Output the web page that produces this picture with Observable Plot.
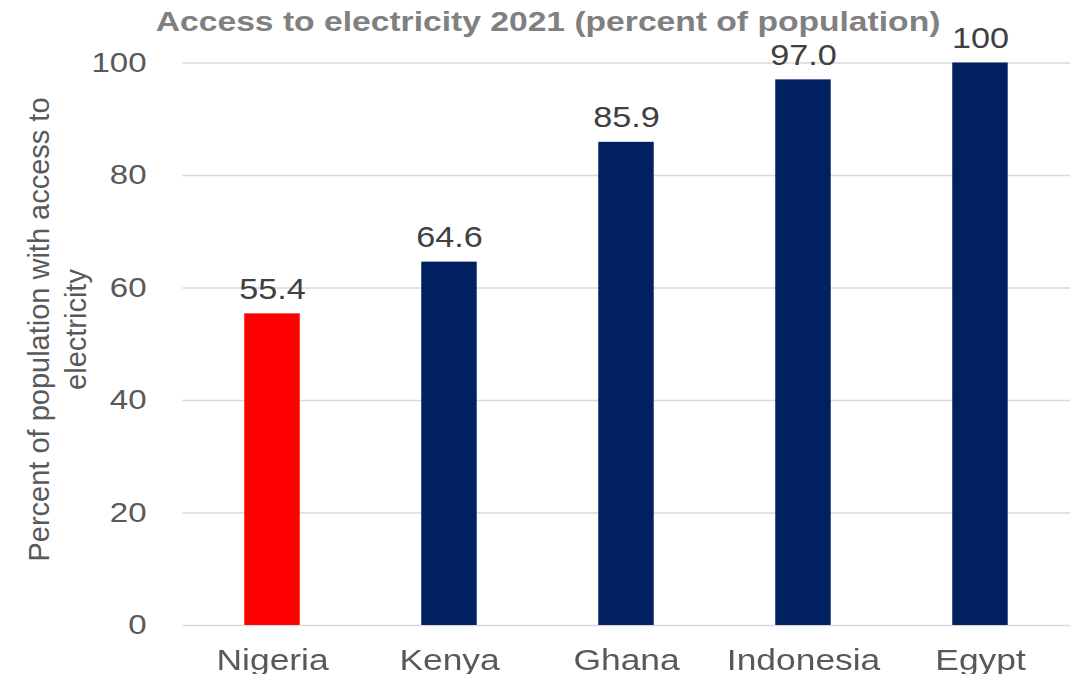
<!DOCTYPE html>
<html><head><meta charset="utf-8">
<script src="https://cdn.jsdelivr.net/npm/d3@7"></script>
<script src="https://cdn.jsdelivr.net/npm/@observablehq/plot@0.6"></script>
<style>
html,body{margin:0;padding:0;background:#fff;overflow:hidden;}
#wrap{transform-origin:0 0;}
</style></head><body><div id="wrap"></div>
<script>
const countries = ["Nigeria", "Kenya", "Ghana", "Indonesia", "Egypt"];
const values = [55.4, 64.6, 85.9, 97.0, 100];
const valueLabels = ["55.4", "64.6", "85.9", "97.0", "100"];
const barColors = ["#ff0000", "#002060", "#002060", "#002060", "#002060"];
const yTicks = [0, 20, 40, 60, 80, 100];
const titleText = "Access to electricity 2021 (percent of population)";
const yLabelLines = ["Percent of population with access to", "electricity"];

const data = countries.map((c, i) => ({country: c, value: values[i], label: valueLabels[i], color: barColors[i]}));

const S = 1.18;            // horizontal stretch of the reference rendering
const W = 1076 / S;
const left = 182.5 / S, right = 1070 / S;
const wrap = document.getElementById("wrap");
wrap.style.width = W + "px";
wrap.style.transform = `scaleX(${S})`;

const chart = Plot.plot({
  width: W,
  height: 674,
  marginTop: 62.5,
  marginBottom: 49,
  marginLeft: left,
  marginRight: W - right,
  style: {fontFamily: "'Liberation Sans', Arial, sans-serif", background: "#fff", overflow: "visible"},
  x: {domain: countries, paddingInner: 0.6845, paddingOuter: 0.342, label: null},
  y: {domain: [0, 100], label: null},
  color: {type: "identity"},
  marks: [
    Plot.ruleY(yTicks, {stroke: "#d9d9d9", strokeWidth: 1.5}),
    Plot.barY(data, {x: "country", y: "value", fill: "color"}),
    Plot.text(data, {x: "country", y: "value", text: "label", dy: -24.4, fontSize: 29, fill: "#404040"}),
    Plot.axisX({tickSize: 0, tickPadding: 23, fontSize: 30, fill: "#595959", label: null}),
    Plot.axisY({ticks: yTicks, tickSize: 0, tickPadding: 31, fontSize: 28, fill: "#595959", label: null}),
    Plot.text([yLabelLines[0]], {text: d => d, frameAnchor: "left", textAnchor: "middle", lineAnchor: "middle", rotate: -90, dx: 33.1 - left, dy: -14.75, fontSize: 29, fill: "#595959"}),
    Plot.text([yLabelLines[1]], {text: d => d, frameAnchor: "left", textAnchor: "middle", lineAnchor: "middle", rotate: -90, dx: 64.4 - left, dy: -14.75, fontSize: 29, fill: "#595959"}),
    Plot.text([titleText], {text: d => d, frameAnchor: "top", textAnchor: "middle", lineAnchor: "middle", dx: 547.5 / S - (left + right) / 2, dy: -41.6, fontSize: 28.5, fontWeight: "bold", fill: "#808080"})
  ]
});
// the vertical axis title is not stretched in the reference: undo the horizontal stretch for it
d3.select(chart).selectAll("text")
  .filter(function () { return yLabelLines.includes(this.textContent); })
  .each(function () {
    const t = this.getAttribute("transform") || "";
    this.setAttribute("transform", t + ` scale(1,${1 / S})`);
  });
wrap.appendChild(chart);
</script>
</body></html>
